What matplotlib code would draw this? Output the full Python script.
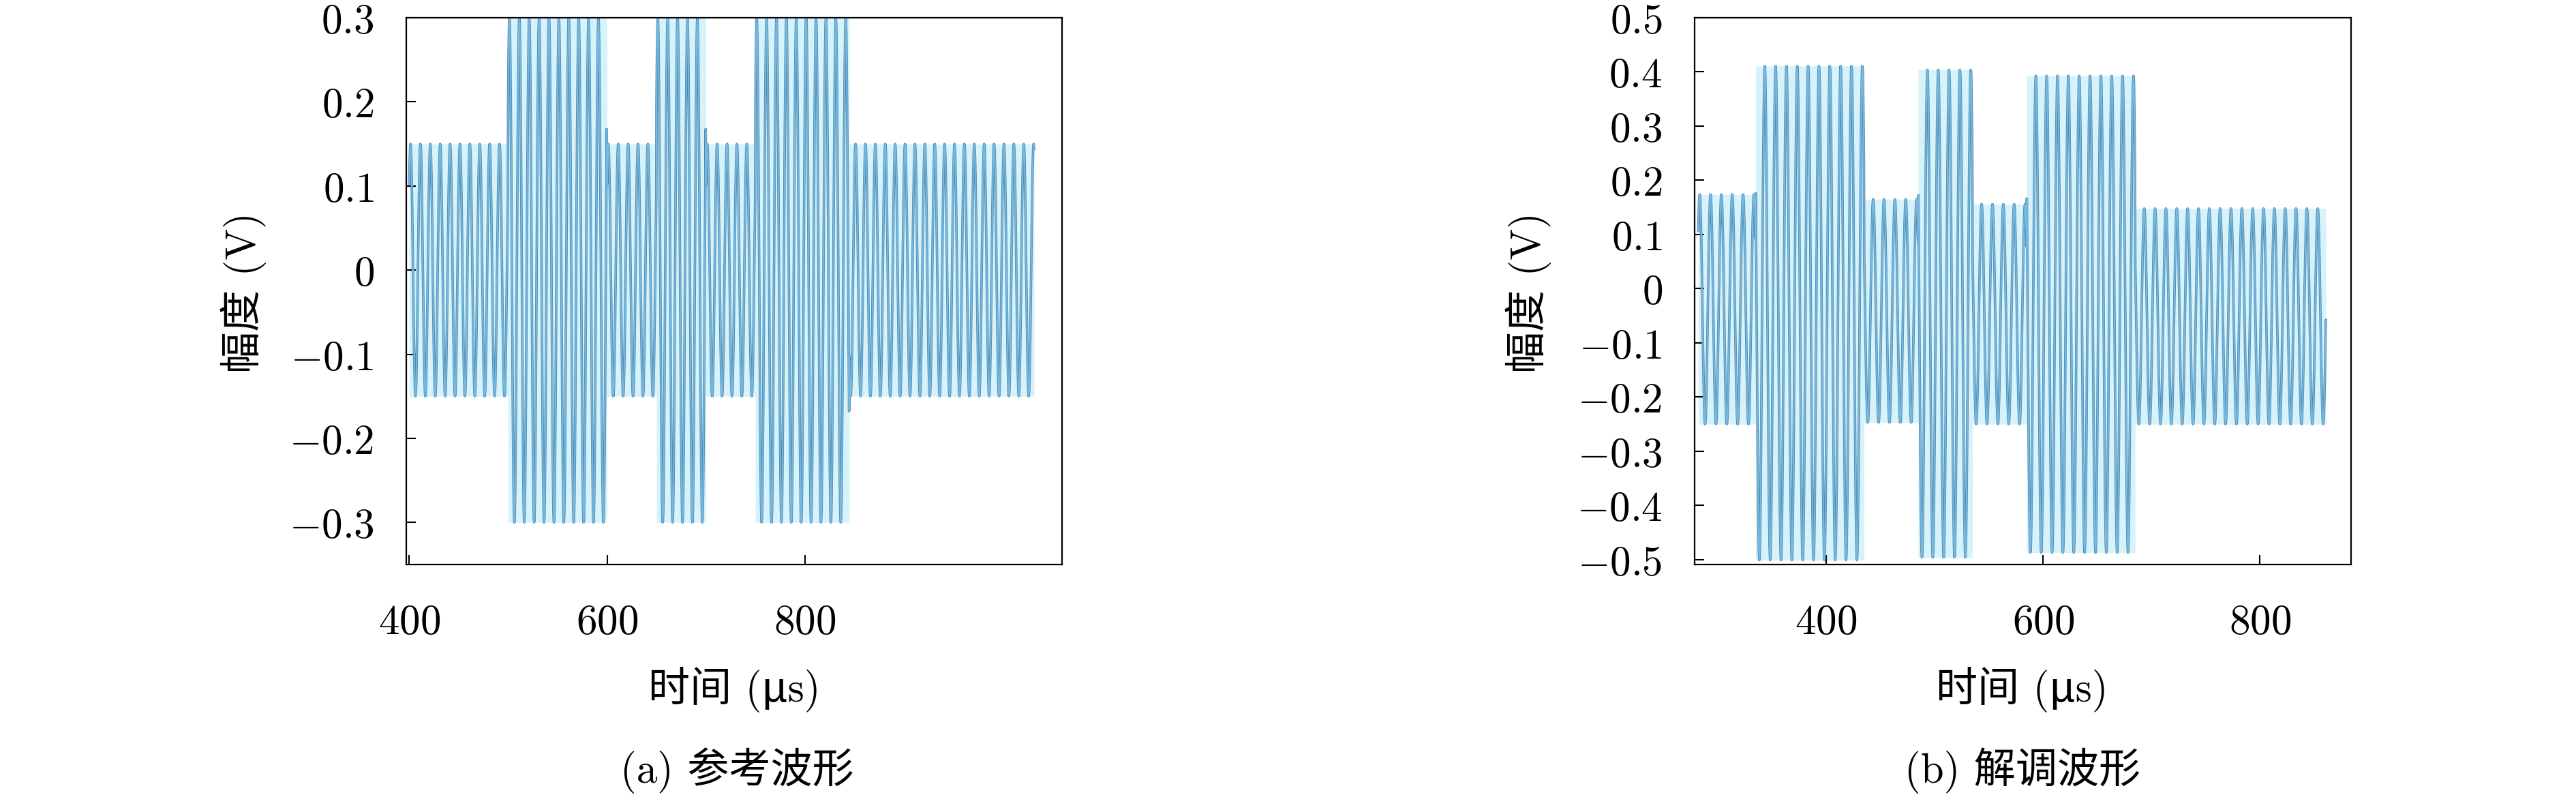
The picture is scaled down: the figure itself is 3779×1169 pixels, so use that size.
import numpy as np
import matplotlib
matplotlib.use("Agg")
import matplotlib.pyplot as plt

# ---------------- data ----------------
carrier_period_us = 10.0          # one carrier cycle every 10 µs

# (a) reference waveform: segment boundaries (µs), amplitude (V), dc offset (V)
a_edges = [400, 500, 600, 650, 700, 750, 845, 1032]
a_amps = [0.15, 0.30, 0.15, 0.30, 0.15, 0.30, 0.15]
a_offsets = [0.0, 0.0, 0.0, 0.0, 0.0, 0.0, 0.0]

# (b) demodulated waveform
b_edges = [282, 335, 435, 485, 535, 585, 685, 861]
b_amps = [0.212, 0.456, 0.206, 0.450, 0.203, 0.440, 0.199]
b_offsets = [-0.038, -0.045, -0.041, -0.046, -0.047, -0.047, -0.051]

x_ticks = [400, 600, 800]
x_ticklabels = ["400", "600", "800"]
a_yticks = [0.3, 0.2, 0.1, 0, -0.1, -0.2, -0.3]
a_yticklabels = ["0.3", "0.2", "0.1", "0", "-0.1", "-0.2", "-0.3"]
b_yticks = [0.5, 0.4, 0.3, 0.2, 0.1, 0, -0.1, -0.2, -0.3, -0.4, -0.5]
b_yticklabels = ["0.5", "0.4", "0.3", "0.2", "0.1", "0", "-0.1", "-0.2", "-0.3", "-0.4", "-0.5"]

a_xlim = (397, 1060)
a_ylim = (-0.35, 0.3)
b_xlim = (278.6, 884)
b_ylim = (-0.509, 0.5)

y_label = "幅度 (V)"
x_label = "时间 (μs)"
captions = ["(a) 参考波形", "(b) 解调波形"]

# ---------------- style ----------------
W, H = 3780, 1169
DPI = 100
FS = 44
txt_family = ["cmr10", "Noto Sans CJK SC", "DejaVu Sans"]
plt.rcParams["mathtext.fontset"] = "cm"

fill_col = "#d6f2fb"
dark_col = "#4a88b0"
mid_col = "#79b7dc"


def build(edges, amps, offs):
    t = np.arange(edges[0], edges[-1], carrier_period_us / 40.0)
    idx = np.clip(np.searchsorted(edges, t, side="right") - 1, 0, len(amps) - 1)
    amp = np.asarray(amps)[idx]
    off = np.asarray(offs)[idx]
    return t, amp, off


fig = plt.figure(figsize=(W / DPI, H / DPI), dpi=DPI)


def fx(px):
    return px / W


def fy(py):
    return 1 - py / H


panels = [
    dict(rect=(596, 26, 1558, 828), edges=a_edges, amps=a_amps, offs=a_offsets,
         xlim=a_xlim, ylim=a_ylim, yt=a_yticks, ytl=a_yticklabels,
         ylab_x=357, xlab_x=1077, cap_x=1081, cap=captions[0]),
    dict(rect=(2486, 26, 3449, 828), edges=b_edges, amps=b_amps, offs=b_offsets,
         xlim=b_xlim, ylim=b_ylim, yt=b_yticks, ytl=b_yticklabels,
         ylab_x=2242, xlab_x=2966, cap_x=2967, cap=captions[1]),
]

for p in panels:
    x0, y0, x1, y1 = p["rect"]
    ax = fig.add_axes([fx(x0), fy(y1), (x1 - x0) / W, (y1 - y0) / H])
    t, amp, off = build(p["edges"], p["amps"], p["offs"])
    sig = off + amp * np.sin(2 * np.pi * (t - p["edges"][0]) / carrier_period_us + 0.75)
    ax.fill_between(t, off - amp, off + amp, color=fill_col, lw=0, step="mid")
    ax.plot(t, sig, color=dark_col, lw=2.6, solid_joinstyle="round")
    ax.plot(t, sig, color=mid_col, lw=1.5, solid_joinstyle="round")
    ax.set_xlim(*p["xlim"])
    ax.set_ylim(*p["ylim"])
    ax.set_xticks(x_ticks)
    ax.set_xticklabels(["$%s$" % s for s in x_ticklabels])
    ax.set_yticks(p["yt"])
    ax.set_yticklabels(["$%s$" % s for s in p["ytl"]])
    ax.tick_params(direction="in", length=10, width=1.5, labelsize=FS, colors="black",
                   top=False, right=False)
    ax.tick_params(axis="x", pad=40)
    ax.tick_params(axis="y", pad=34)
    for s in ax.spines.values():
        s.set_linewidth(1.6)
        s.set_color("black")
    fig.text(fx(p["ylab_x"]), fy(429), y_label, rotation=90, ha="center", va="center",
             fontsize=FS, family=txt_family)
    fig.text(fx(p["xlab_x"]), fy(1012), x_label, ha="center", va="center",
             fontsize=FS, family=txt_family)
    fig.text(fx(p["cap_x"]), fy(1130), p["cap"], ha="center", va="center",
             fontsize=FS, family=txt_family)

fig.savefig("out.png", dpi=DPI, facecolor="white")
